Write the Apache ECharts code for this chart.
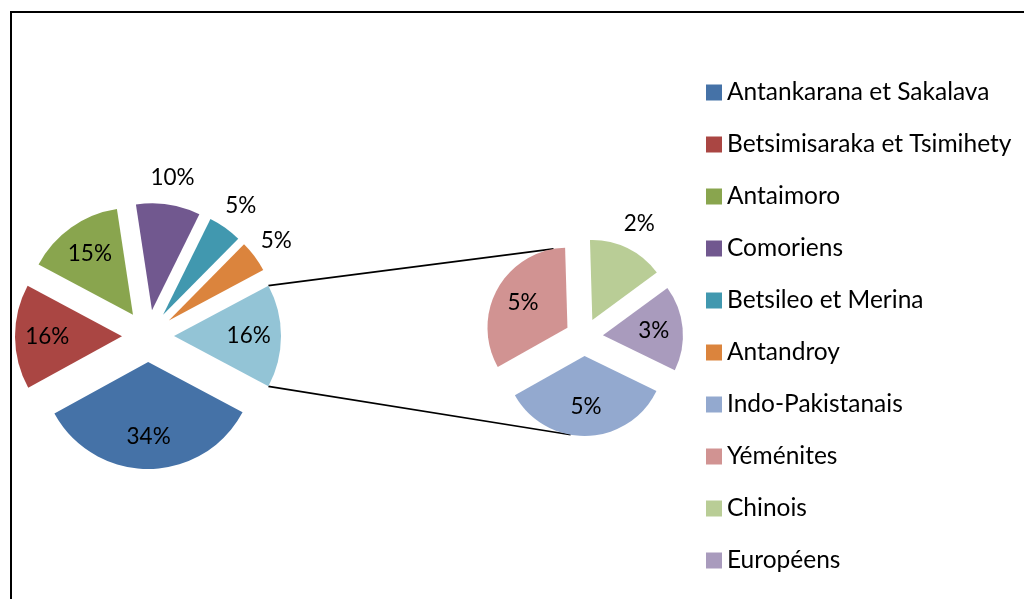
<!DOCTYPE html>
<html><head><meta charset="utf-8">
<script src="https://cdn.jsdelivr.net/npm/echarts@6/dist/echarts.min.js"></script>
<style>html,body{margin:0;padding:0;background:#fff}#c{width:1024px;height:599px}</style>
</head><body><div id="c"></div>
<script>
// ---- data ----
const mainNames = ['Antankarana et Sakalava','Betsimisaraka et Tsimihety','Antaimoro','Comoriens','Betsileo et Merina','Antandroy'];
const mainValues = [34.2, 15.8, 14.8, 9.7, 5.1, 4.8];
const subNames = ['Indo-Pakistanais','Yéménites','Chinois','Européens'];
const subValues = [5.4, 5.1, 2.4, 2.7];
const otherName = 'Autres';

// ---- style ----
const mainColors = ['#4572A7','#AA4643','#89A54E','#71588F','#4198AF','#DB843D'];
const otherColor = '#93C4D6';
const subColors = ['#93A9CF','#D19392','#B9CD96','#A99BBD'];
const FONT = 'Lato';
const MAIN = {cx:148, cy:336, r:107, off:26, k:0.67, out:24};
const SUB = {cx:584, cy:337, r:80, off:19, k:0.6, out:24, startCW:116};

const sum = a => a.reduce((x,y)=>x+y,0);
const otherValue = sum(subValues);
const mainAll = mainValues.concat([otherValue]);
const mainAllNames = mainNames.concat([otherName]);
const mainAllColors = mainColors.concat([otherColor]);
const grandTotal = sum(mainAll);
const rad = d => d*Math.PI/180;
const dir = d => [Math.sin(rad(d)), -Math.cos(rad(d))];
function geom(values, startCW){
  const tot = sum(values); let a = startCW; const out = [];
  values.forEach(v=>{const span=v/tot*360; out.push({a0:a,a1:a+span,mid:a+span/2,span}); a+=span;});
  return out;
}
const otherSpan = otherValue/grandTotal*360;
MAIN.startCW = 90 + otherSpan/2;
const gMain = geom(mainAll, MAIN.startCW);
const gSub = geom(subValues, SUB.startCW);
// small slices get their label outside
const isInside = (P, g) => P.r*rad(g.span) >= 80;

// connector lines
const [ox,oy] = dir(90);
function mainCorner(a){const [dx,dy]=dir(a); return [MAIN.cx+MAIN.off*ox+MAIN.r*dx, MAIN.cy+MAIN.off*oy+MAIN.r*dy];}
function subPoint(a){
  let g = gSub.find(s=>{let x=a; while(x<s.a0) x+=360; return x>=s.a0 && x<s.a1;}) || gSub[0];
  const [mx,my]=dir(g.mid); const [dx,dy]=dir(a);
  return [SUB.cx+SUB.off*mx+SUB.r*dx, SUB.cy+SUB.off*my+SUB.r*dy];
}
const up1 = mainCorner(90 - otherSpan/2), lo1 = mainCorner(90 + otherSpan/2);
const up2 = subPoint(350), lo2 = subPoint(190);

const fmt = p => Math.round(p.value/grandTotal*100) + '%';
const labelStyle = {position:'inside', formatter:fmt, color:'#000', fontFamily:FONT, fontSize:22.5, padding:[6,0,0,0]};

function pieSeries(P, names, values, colors){
  return {
    type:'pie', center:[P.cx, P.cy], radius:P.r, startAngle:90-P.startCW, clockwise:true,
    selectedMode:'multiple', selectedOffset:P.off, avoidLabelOverlap:false,
    emphasis:{disabled:true}, label:{show:false}, labelLine:{show:false},
    data: values.map((v,i)=>({name:names[i], value:v, selected:true, itemStyle:{color:colors[i]}}))
  };
}
// transparent companion series that only carry the percentage labels,
// sized so the "inside" label lands at the wanted radial distance
function labelSeries(P, names, values, geo, inside){
  const rr = inside ? 2*P.k*P.r : 2*(P.r+P.out);
  return {
    type:'pie', center:[P.cx, P.cy], radius:rr, startAngle:90-P.startCW, clockwise:true,
    selectedMode:'multiple', selectedOffset:P.off, avoidLabelOverlap:false, silent:true,
    emphasis:{disabled:true}, labelLine:{show:false},
    itemStyle:{color:'rgba(0,0,0,0)'},
    label:labelStyle,
    data: values.map((v,i)=>({name:names[i]+' label', value:v, selected:true,
      label:{show: isInside(P, geo[i]) === inside}}))
  };
}

const chart = echarts.init(document.getElementById('c'), null, {renderer:'canvas'});
chart.setOption({
  animation:false,
  backgroundColor:'#fff',
  legend:{
    orient:'vertical', left:706, top:80, padding:0, itemWidth:16, itemHeight:16, itemGap:27,
    icon:'rect', selectedMode:false,
    data: mainNames.concat(subNames),
    textStyle:{fontFamily:FONT, fontSize:24.5, color:'#000', lineHeight:24}
  },
  graphic:[
    {type:'rect', shape:{x:11, y:12, width:1200, height:800}, style:{fill:'none', stroke:'#000', lineWidth:2}, silent:true},
    {type:'line', shape:{x1:up1[0],y1:up1[1],x2:up2[0],y2:up2[1]}, style:{stroke:'#000', lineWidth:1.6}, silent:true},
    {type:'line', shape:{x1:lo1[0],y1:lo1[1],x2:lo2[0],y2:lo2[1]}, style:{stroke:'#000', lineWidth:1.6}, silent:true}
  ],
  series:[
    pieSeries(MAIN, mainAllNames, mainAll, mainAllColors),
    pieSeries(SUB, subNames, subValues, subColors),
    labelSeries(MAIN, mainAllNames, mainAll, gMain, true),
    labelSeries(MAIN, mainAllNames, mainAll, gMain, false),
    labelSeries(SUB, subNames, subValues, gSub, true),
    labelSeries(SUB, subNames, subValues, gSub, false)
  ]
});
</script></body></html>
